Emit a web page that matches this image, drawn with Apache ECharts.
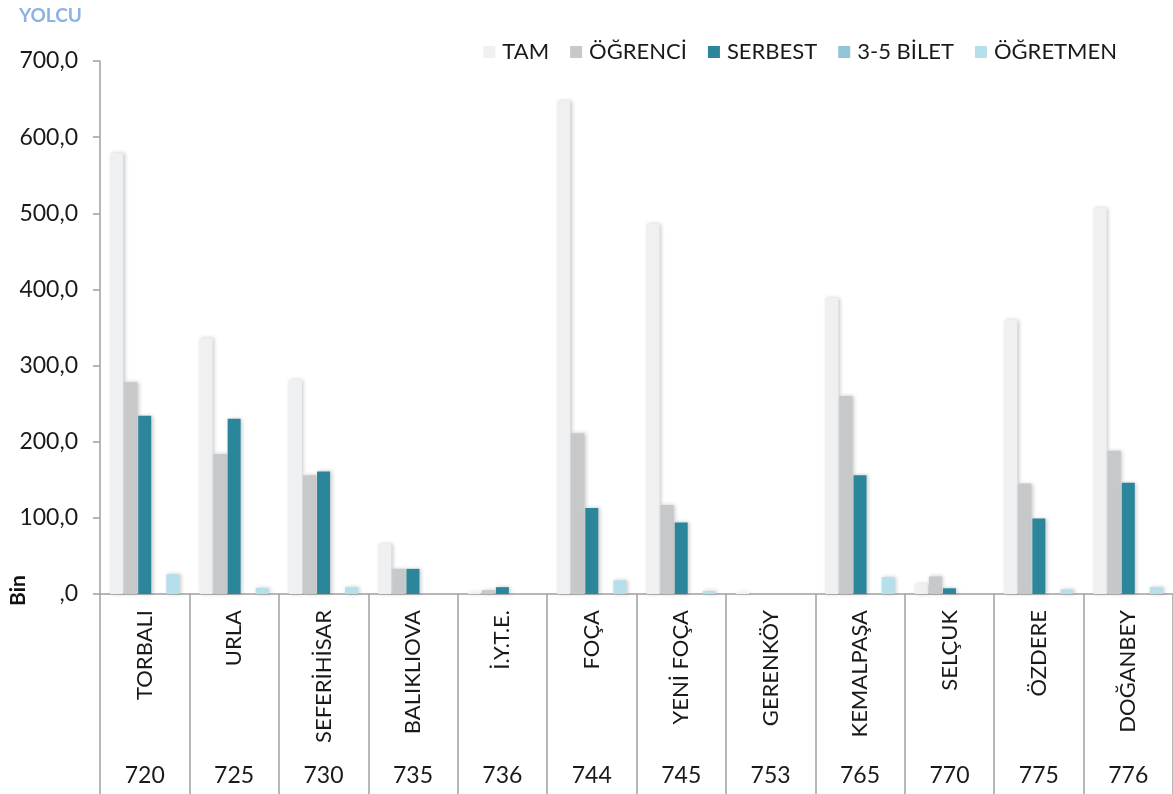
<!DOCTYPE html>
<html>
<head>
<meta charset="utf-8">
<script src="https://cdn.jsdelivr.net/npm/echarts@6/dist/echarts.min.js"></script>
<style>
  html, body { margin: 0; padding: 0; background: #ffffff; }
  #chart { width: 1173px; height: 794px; }
</style>
</head>
<body>
<div id="chart"></div>
<script>
// Line names and line numbers along the category axis
const stations = ['TORBALI', 'URLA', 'SEFERİHİSAR', 'BALIKLIOVA', 'İ.Y.T.E.', 'FOÇA',
  'YENİ FOÇA', 'GERENKÖY', 'KEMALPAŞA', 'SELÇUK', 'ÖZDERE', 'DOĞANBEY'];
const lineCodes = ['720', '725', '730', '735', '736', '744', '745', '753', '765', '770', '775', '776'];

// Passenger counts per ticket type (thousands)
const tam      = [579, 336, 281, 66, 2, 648, 486, 1.5, 389, 13, 360, 507];
const ogrenci  = [278, 184, 156, 33, 5, 211, 117, 0, 260, 23, 145, 188];
const serbest  = [234, 230, 161, 33, 9, 113, 94, 0, 156, 7.5, 99, 146];
const bilet35  = [0, 0, 0, 0, 0, 0, 0, 0, 0, 0, 0, 0];
const ogretmen = [26, 8, 9, 0, 0, 18, 4, 0, 22, 0, 6, 9];

const yTicks = { min: 0, max: 700, interval: 100 };

const seriesDefs = [
  { name: 'TAM', data: tam, color: '#eff0f2' },
  { name: 'ÖĞRENCİ', data: ogrenci, color: '#c7c8ca' },
  { name: 'SERBEST', data: serbest, color: '#2b869c' },
  { name: '3-5 BİLET', data: bilet35, color: '#92c5d6' },
  { name: 'ÖĞRETMEN', data: ogretmen, color: '#b5dfea' }
];

const FONT = 'Lato';
const axisGray = '#a0a0a0';

const chart = echarts.init(document.getElementById('chart'), null, { renderer: 'canvas' });

chart.setOption({
  animation: false,
  backgroundColor: '#ffffff',
  textStyle: { fontFamily: FONT },
  grid: { left: 100, right: -1, top: 61, bottom: 200, containLabel: false },
  legend: {
    top: 36,
    right: 51,
    itemWidth: 12,
    itemHeight: 12,
    itemGap: 21,
    icon: 'rect',
    textStyle: { fontFamily: FONT, fontSize: 22, color: '#1a1a1a', padding: [0, 0, 0, 2] },
    data: seriesDefs.map(s => s.name)
  },
  graphic: [
    {
      type: 'text', left: 19, top: 6,
      style: { text: 'YOLCU', fontFamily: FONT, fontSize: 19, fontWeight: 'bold', fill: '#8db3e2' }
    },
    {
      type: 'text', x: 8, y: 606, rotation: Math.PI / 2,
      style: { text: 'Bin', fontFamily: FONT, fontSize: 21, fontWeight: 'bold', fill: '#111111',
        align: 'left', verticalAlign: 'top' }
    }
  ],
  xAxis: [
    {
      type: 'category',
      data: stations,
      position: 'bottom',
      axisLine: { show: true, lineStyle: { color: axisGray, width: 1.5 } },
      axisTick: { show: true, length: 200, interval: 0, lineStyle: { color: axisGray, width: 1.5 } },
      axisLabel: { interval: 0, rotate: 90, margin: 16, fontFamily: FONT, fontSize: 22, color: '#1a1a1a' }
    },
    {
      type: 'category',
      data: lineCodes,
      position: 'bottom',
      axisLine: { show: false },
      axisTick: { show: false },
      axisLabel: { interval: 0, margin: 170, fontFamily: FONT, fontSize: 23, color: '#1a1a1a' }
    }
  ],
  yAxis: {
    type: 'value',
    min: yTicks.min,
    max: yTicks.max,
    interval: yTicks.interval,
    axisLine: { show: true, lineStyle: { color: axisGray, width: 1.5 } },
    axisTick: { show: true, length: 7, lineStyle: { color: axisGray, width: 1.5 } },
    splitLine: { show: false },
    axisLabel: {
      margin: 22,
      fontFamily: FONT,
      fontSize: 23,
      color: '#1a1a1a',
      formatter: v => v === 0 ? ',0' : v.toFixed(1).replace('.', ',')
    }
  },
  series: seriesDefs.map(s => ({
    name: s.name,
    type: 'bar',
    xAxisIndex: 0,
    data: s.data,
    barWidth: 13,
    barGap: '8%',
    barCategoryGap: '23%',
    itemStyle: {
      color: s.color,
      shadowColor: 'rgba(0,0,0,0.22)',
      shadowBlur: 4,
      shadowOffsetX: 1.5,
      shadowOffsetY: 0
    },
    emphasis: { disabled: true }
  }))
});
</script>
</body>
</html>
